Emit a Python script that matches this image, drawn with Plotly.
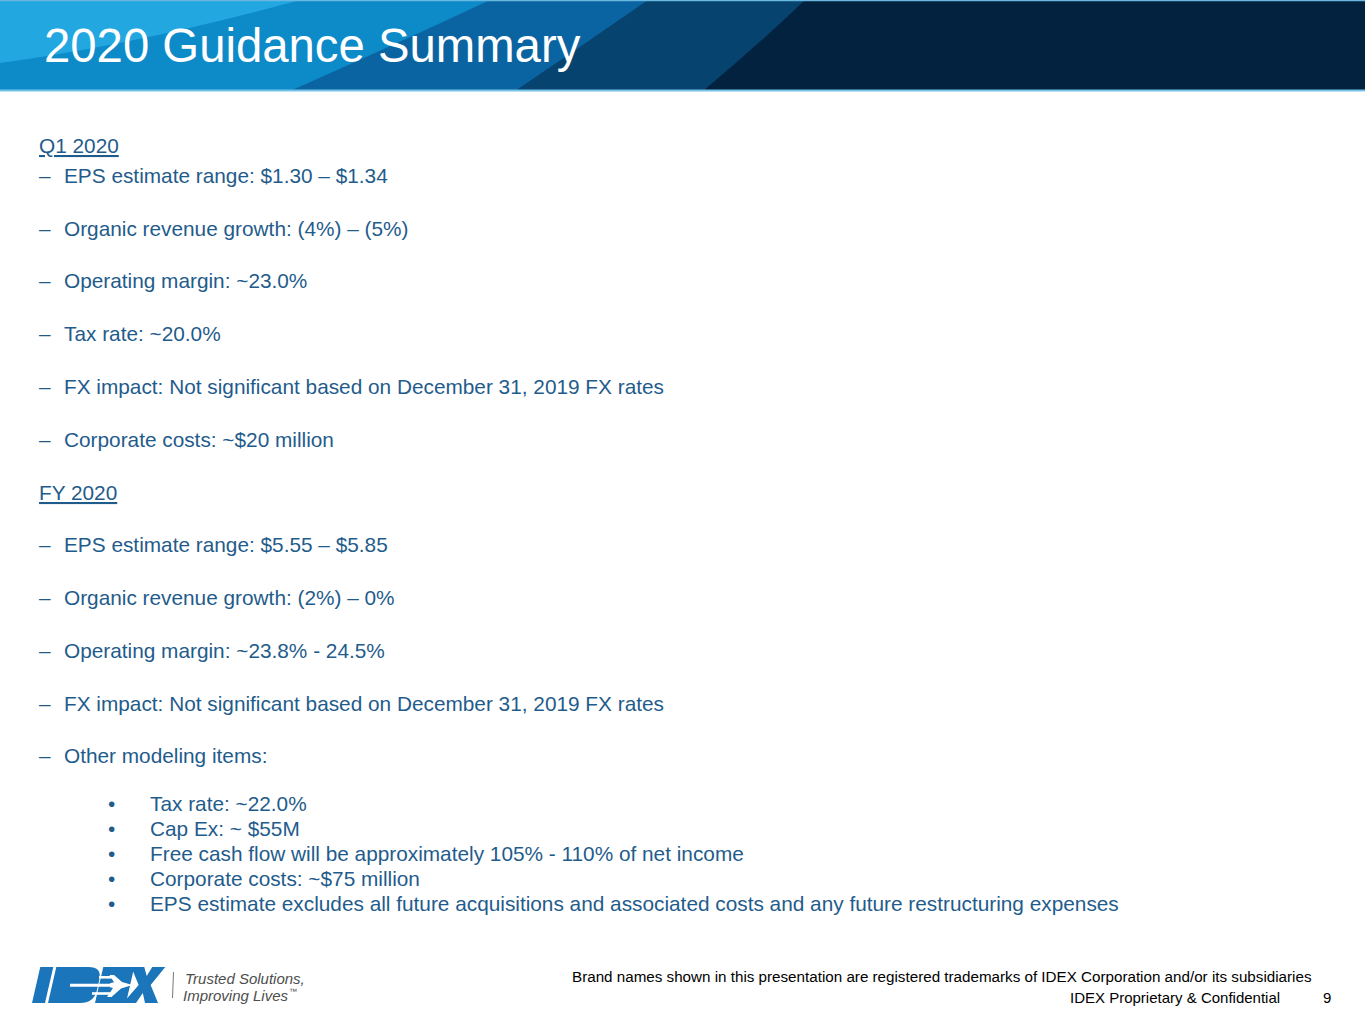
import plotly.graph_objects as go

# ---------------- data (slide content) ----------------
title_text = "2020 Guidance Summary"
q1_header = "Q1 2020"
q1_items = [
    "EPS estimate range: $1.30 – $1.34",
    "Organic revenue growth: (4%) – (5%)",
    "Operating margin: ~23.0%",
    "Tax rate: ~20.0%",
    "FX impact: Not significant based on December 31, 2019 FX rates",
    "Corporate costs: ~$20 million",
]
fy_header = "FY 2020"
fy_items = [
    "EPS estimate range: $5.55 – $5.85",
    "Organic revenue growth: (2%) – 0%",
    "Operating margin: ~23.8% - 24.5%",
    "FX impact: Not significant based on December 31, 2019 FX rates",
    "Other modeling items:",
]
other_items = [
    "Tax rate: ~22.0%",
    "Cap Ex: ~ $55M",
    "Free cash flow will be approximately 105% - 110% of net income",
    "Corporate costs: ~$75 million",
    "EPS estimate excludes all future acquisitions and associated costs and any future restructuring expenses",
]
footer_line1 = "Brand names shown in this presentation are registered trademarks of IDEX Corporation and/or its subsidiaries"
footer_line2 = "IDEX Proprietary & Confidential"
page_number = "9"
tagline = ["Trusted Solutions,", "Improving Lives", "\u2122"]

# ---------------- style ----------------
W, H = 1365, 1024
FONT = "Liberation Sans, Arial, Helvetica, sans-serif"
TXT = "#1f5c8c"
BLUE = "#1b75bb"

fig = go.Figure()

shapes = []
ann = []

# ---------------- header banner ----------------
shapes.append(dict(type="rect", x0=0, x1=W, y0=0, y1=91, fillcolor="#03223f", line_width=0, layer="below"))
shapes.append(dict(type="path", path="M0,0 L805,0 Q758,45 703,91 L0,91 Z", fillcolor="#07436f", line_width=0, layer="below"))
shapes.append(dict(type="path", path="M0,0 L648,0 Q583,45 515,91 L0,91 Z", fillcolor="#0b64a2", line_width=0, layer="below"))
shapes.append(dict(type="path", path="M0,0 L490,0 Q405,40 290,91 L0,91 Z", fillcolor="#0d8ac8", line_width=0, layer="below"))
shapes.append(dict(type="path", path="M0,0 L300,0 Q140,44 0,63 Z", fillcolor="#22a7e1", line_width=0, layer="below"))
shapes.append(dict(type="line", x0=0, x1=W, y0=90.5, y1=90.5, line=dict(color="#74c3e8", width=2.2)))
shapes.append(dict(type="line", x0=0, x1=W, y0=0.6, y1=0.6, line=dict(color="#6ab8df", width=1.2)))

ann.append(dict(x=42, y=45, text=title_text, xanchor="left", yanchor="middle", showarrow=False,
                font=dict(family=FONT, size=47.3, color="white")))

# ---------------- body text ----------------
BODY = 20.8
def body_line(y, text, indent_x, marker=None, marker_x=38):
    if marker:
        ann.append(dict(x=marker_x, y=y, text=marker, xanchor="left", yanchor="middle", showarrow=False,
                        font=dict(family=FONT, size=BODY, color=TXT)))
    ann.append(dict(x=indent_x, y=y, text=text, xanchor="left", yanchor="middle", showarrow=False,
                    font=dict(family=FONT, size=BODY, color=TXT)))

body_line(145, "<u>" + q1_header + "</u>", 37)
q1_y = [175, 228, 280, 333, 386, 439]
for y, t in zip(q1_y, q1_items):
    body_line(y, t, 62, "–", 37)
body_line(492, "<u>" + fy_header + "</u>", 37)
fy_y = [544, 597, 650, 703, 755]
for y, t in zip(fy_y, fy_items):
    body_line(y, t, 62, "–", 37)
oth_y = [803, 828, 853, 878, 903]
for y, t in zip(oth_y, other_items):
    body_line(y, t, 148, "•", 106)

# ---------------- footer ----------------
ann.append(dict(x=1314, y=976, text=footer_line1, xanchor="right", yanchor="middle", showarrow=False,
                font=dict(family=FONT, size=15.2, color="#000000")))
ann.append(dict(x=1282, y=997, text=footer_line2, xanchor="right", yanchor="middle", showarrow=False,
                font=dict(family=FONT, size=15, color="#000000")))
ann.append(dict(x=1333, y=997, text=page_number, xanchor="right", yanchor="middle", showarrow=False,
                font=dict(family=FONT, size=15, color="#000000")))

# ---------------- IDEX logo (sheared glyph outlines) ----------------
SH = 0.23
BASE = 1003
def P(u, v):
    return u + v * SH, BASE - v

def poly(pts):
    s = ""
    for i, (u, v) in enumerate(pts):
        x, y = P(u, v)
        s += ("M" if i == 0 else " L") + f"{x:.2f},{y:.2f}"
    return s + " Z"

def pt(u, v):
    x, y = P(u, v)
    return f"{x:.2f},{y:.2f}"

# I
shapes.append(dict(type="path", path=poly([(32, 0), (45, 0), (45, 36), (32, 36)]), fillcolor=BLUE, line_width=0))
# D (rounded right side)
dpath = (f"M{pt(48,0)} L{pt(80,0)} Q{pt(94,0)} {pt(94,13)} L{pt(94,23)} "
         f"Q{pt(94,36)} {pt(80,36)} L{pt(48,36)} Z")
shapes.append(dict(type="path", path=dpath, fillcolor=BLUE, line_width=0))
# E block
shapes.append(dict(type="path", path=poly([(95, 0), (126, 0), (126, 36), (95, 36)]), fillcolor=BLUE, line_width=0))
# X
shapes.append(dict(type="path", path=poly([(123, 0), (136, 0), (140.5, 10), (145, 0), (158, 0), (146.5, 18),
                                          (157, 36), (144, 36), (140.5, 27), (136, 36), (123, 36), (134.5, 18)]),
                   fillcolor=BLUE, line_width=0))
# white arrow trail & E gaps
shapes.append(dict(type="line", x0=70, x1=121, y0=985.3, y1=985.3, line=dict(color="white", width=3)))
shapes.append(dict(type="line", x0=99, x1=114, y0=977.3, y1=977.3, line=dict(color="white", width=2.6)))
shapes.append(dict(type="line", x0=92, x1=110, y0=993.5, y1=993.5, line=dict(color="white", width=2.6)))
# white plane
plane = [(132.5, 985), (122, 982), (114, 975), (109.5, 975), (114, 982.3), (110, 983.3),
         (110, 987.3), (113, 988), (107, 997), (111.5, 997), (121, 988.5)]
shapes.append(dict(type="path", path="M" + " L".join(f"{x},{y}" for x, y in plane) + " Z",
                   fillcolor="white", line_width=0))
# separator
shapes.append(dict(type="line", x0=173.5, x1=172.5, y0=972, y1=998, line=dict(color="#777777", width=1)))
ann.append(dict(x=183, y=978, text="<i>" + tagline[0] + "</i>", xanchor="left", yanchor="middle", showarrow=False,
                font=dict(family=FONT, size=15, color="#4d4d4d")))
ann.append(dict(x=181, y=995, text="<i>" + tagline[1] + "</i>",
                xanchor="left", yanchor="middle", showarrow=False,
                font=dict(family=FONT, size=15, color="#4d4d4d")))
ann.append(dict(x=287, y=991, text=tagline[2], xanchor="left", yanchor="middle", showarrow=False,
                font=dict(family=FONT, size=8, color="#4d4d4d")))

fig.update_layout(
    width=W, height=H,
    margin=dict(l=0, r=0, t=0, b=0),
    paper_bgcolor="white", plot_bgcolor="white",
    xaxis=dict(range=[0, W], visible=False, fixedrange=True, domain=[0, 1]),
    yaxis=dict(range=[H, 0], visible=False, fixedrange=True, domain=[0, 1]),
    shapes=shapes, annotations=ann, showlegend=False,
)

fig.write_html("out.html", config={"displayModeBar": False},
               post_script="document.body.style.margin='0';document.body.style.overflow='hidden';")
